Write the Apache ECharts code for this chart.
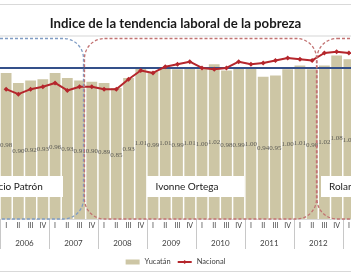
<!DOCTYPE html>
<html>
<head>
<meta charset="utf-8">
<script src="https://cdn.jsdelivr.net/npm/echarts@6/dist/echarts.min.js"></script>
<style>
html, body { margin: 0; padding: 0; background: #fff; }
#chart { width: 351px; height: 278px; }
</style>
</head>
<body>
<div id="chart"></div>
<script>
// datos
var anios = ['2006', '2007', '2008', '2009', '2010', '2011', '2012', '2013'];
var trimestres = ['I', 'II', 'III', 'IV'];
var yucatan = [0.97, 0.89, 0.91, 0.92, 0.97, 0.93, 0.91, 0.90, 0.89, 0.85,
               0.93, 1.01, 0.98, 1.01, 1.00, 1.01, 1.00, 1.04, 0.99, 1.01,
               1.01, 0.94, 0.95, 1.00, 1.03, 1.00, 1.03, 1.11, 1.08];
var etiquetas = [0.98, 0.90, 0.92, 0.93, 0.96, 0.93, 0.91, 0.90, 0.89, 0.85,
                 0.93, 1.01, 0.99, 1.01, 0.99, 1.01, 1.00, 1.02, 0.98, 0.99,
                 1.00, 0.94, 0.95, 1.00, 1.01, 0.98, 1.02, 1.08, 1.05];
var nacional = [0.84, 0.80, 0.84, 0.86, 0.89, 0.83, 0.86, 0.86, 0.84, 0.84,
                0.92, 0.99, 0.97, 1.02, 1.04, 1.06, 1.01, 1.00, 1.01, 1.06,
                1.04, 1.05, 1.07, 1.09, 1.08, 1.07, 1.13, 1.14, 1.13];
var referencia = [1.015];
var gobernadores = ['Patricio Patrón', 'Ivonne Ortega', 'Rolando Zapata'];

var yMin = -0.2;

// categorias: trimestre por año
var categorias = [];
for (var a = 0; a < anios.length; a++) {
    for (var t = 0; t < trimestres.length; t++) {
        if (categorias.length < yucatan.length) categorias.push(anios[a] + ' ' + trimestres[t]);
    }
}
// eje de años: etiqueta centrada en cada grupo de 4 trimestres
var ejeAnios = [];
for (var i = 0; i <= categorias.length; i++) {
    ejeAnios.push(i % 4 === 2 ? anios[(i - 2) / 4] : '');
}
var barras = yucatan.map(function (v, i) { return [i, v]; });

var myChart = echarts.init(document.getElementById('chart'));

// barras desde el minimo del eje (no desde cero)
function dibujaBarra(params, api) {
    var top = api.coord([api.value(0), api.value(1)]);
    var base = api.coord([api.value(0), yMin]);
    var w = api.size([1, 0])[0] * 0.88;
    return {
        type: 'rect',
        shape: {x: top[0] - w / 2, y: top[1], width: w, height: base[1] - top[1]},
        style: {fill: api.visual('color')}
    };
}

var dash = [3, 2];
function periodo(x, w, color) {
    return {
        type: 'rect', z: 100, silent: true,
        shape: {x: x, y: 38.5, width: w, height: 180.5, r: 20},
        style: {fill: null, stroke: color, lineWidth: 1.3, lineDash: dash}
    };
}
function caja(x, w) {
    return {
        type: 'rect', z: 101, silent: true,
        shape: {x: x, y: 176, width: w, height: 21},
        style: {fill: '#fff'}
    };
}
function nombre(x, texto) {
    return {
        type: 'text', z: 102, silent: true, x: x, y: 186.5,
        style: {text: texto, font: '10px Lato', fill: '#1a1a1a', verticalAlign: 'middle'}
    };
}

var option = {
    animation: false,
    title: {
        text: 'Indice de la tendencia laboral de la pobreza',
        left: 'center',
        top: 12,
        textStyle: {fontFamily: 'Lato', fontWeight: 'bold', fontSize: 13.2, color: '#1a1a1a'}
    },
    legend: {
        data: [{name: 'Yucatán', icon: 'rect'}, {name: 'Nacional'}],
        left: 'center',
        top: 253,
        itemWidth: 14,
        itemHeight: 5,
        itemGap: 6,
        textStyle: {fontFamily: 'Lato', fontSize: 7.5, color: '#404040'}
    },
    grid: {left: 0, right: -4, top: 38, bottom: 59, outerBoundsMode: 'none'},
    xAxis: [{
        type: 'category',
        data: categorias,
        axisLine: {onZero: false, lineStyle: {color: '#d9d9d9'}},
        axisTick: {interval: 0, length: 12, lineStyle: {color: '#d4d4d4'}},
        axisLabel: {
            interval: 0, margin: 3, fontSize: 7, fontFamily: 'Lato', color: '#404040',
            formatter: function (v) { return v.split(' ')[1]; }
        }
    }, {
        type: 'category',
        data: ejeAnios,
        boundaryGap: false,
        position: 'bottom',
        axisLine: {show: false, onZero: false},
        axisTick: {
            interval: function (idx) { return idx % 4 === 0; },
            length: 30, lineStyle: {color: '#c8c8c8'}
        },
        axisLabel: {interval: 0, margin: 20, fontSize: 8, fontFamily: 'Lato', color: '#404040'}
    }],
    yAxis: [
        {type: 'value', min: yMin, max: 1.25, show: false},
        {type: 'value', min: 0, max: 2.4133, show: false}
    ],
    series: [{
        name: 'Yucatán',
        type: 'custom',
        data: barras,
        encode: {x: 0, y: 1},
        renderItem: dibujaBarra,
        itemStyle: {color: '#cdc6a5'},
        z: 2,
        markLine: {
            silent: true,
            symbol: 'none',
            label: {show: false},
            lineStyle: {color: '#34508a', width: 2, type: 'solid'},
            data: [{yAxis: referencia[0]}]
        }
    }, {
        name: 'Nacional',
        type: 'line',
        data: nacional,
        z: 5,
        symbol: 'diamond',
        symbolSize: 5,
        itemStyle: {color: '#b5262c'},
        lineStyle: {color: '#b5262c', width: 2}
    }, {
        name: 'etiquetas',
        type: 'scatter',
        yAxisIndex: 1,
        data: etiquetas,
        symbolSize: 0.1,
        itemStyle: {color: 'rgba(0,0,0,0)'},
        silent: true,
        z: 4,
        label: {
            show: true,
            position: 'inside',
            fontFamily: 'Liberation Serif',
            fontSize: 7,
            color: '#404040',
            formatter: function (p) { return p.value.toFixed(2); }
        }
    }],
    graphic: [
        {type: 'line', z: 90, silent: true, shape: {x1: 0, y1: 4.5, x2: 351, y2: 4.5}, style: {stroke: '#d9d9d9', lineWidth: 1}},
        {type: 'line', z: 90, silent: true, shape: {x1: 0, y1: 36, x2: 351, y2: 36}, style: {stroke: '#e3e3e3', lineWidth: 1.5}},
        {type: 'line', z: 90, silent: true, shape: {x1: 0, y1: 271.5, x2: 351, y2: 271.5}, style: {stroke: '#d9d9d9', lineWidth: 1}},
        periodo(-80, 163.5, '#7f9cc4'),
        periodo(84.5, 232, '#c27272'),
        periodo(317, 200, '#c27272'),
        caja(-30, 93),
        caja(147, 97),
        caja(321, 97),
        nombre(-22, gobernadores[0]),
        nombre(155.5, gobernadores[1]),
        nombre(329, gobernadores[2])
    ]
};
myChart.setOption(option);
</script>
</body>
</html>
